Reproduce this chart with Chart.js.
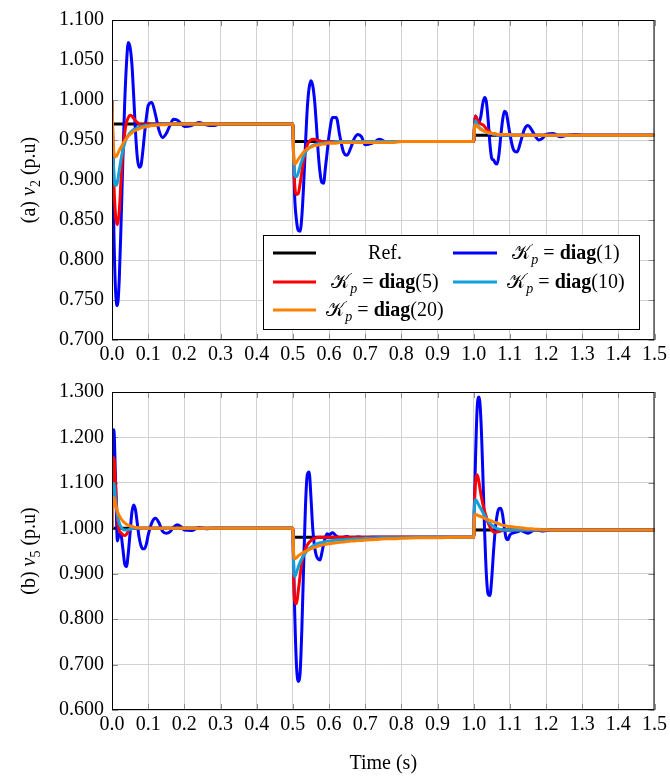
<!DOCTYPE html>
<html>
<head>
<meta charset="utf-8">
<script src="https://cdn.jsdelivr.net/npm/chart.js@4.4.1/dist/chart.umd.min.js"></script>
<style>
  html, body { margin: 0; padding: 0; background: #fff; }
  #wrap { position: relative; width: 670px; height: 776px; }
  canvas { position: absolute; left: 0; }
  #c1 { top: 0; }
  #c2 { top: 372px; }
</style>
</head>
<body>
<div id="wrap">
  <canvas id="c1" width="670" height="372"></canvas>
  <canvas id="c2" width="670" height="404"></canvas>
</div>
<script>
// Simulation time (s): dense right after each set-point change at 0, 0.5 and 1.0 s
const time = [
  0,0.002,0.005,0.01,0.015,0.02,0.025,0.03,0.035,0.04,
  0.045,0.05,0.055,0.06,0.065,0.07,0.075,0.08,0.085,0.09,
  0.095,0.1,0.11,0.12,0.13,0.14,0.15,0.16,0.17,0.18,
  0.19,0.2,0.22,0.24,0.26,0.28,0.3,0.35,0.4,0.45,0.499,
  0.5,0.502,0.505,0.51,0.515,0.52,0.525,0.53,0.535,0.54,
  0.545,0.55,0.555,0.56,0.565,0.57,0.575,0.58,0.585,0.59,
  0.595,0.6,0.61,0.62,0.63,0.64,0.65,0.66,0.67,0.68,
  0.69,0.7,0.72,0.74,0.76,0.78,0.8,0.85,0.9,0.95,0.999,
  1,1.002,1.005,1.01,1.015,1.02,1.025,1.03,1.035,1.04,
  1.045,1.05,1.055,1.06,1.065,1.07,1.075,1.08,1.085,1.09,
  1.095,1.1,1.11,1.12,1.13,1.14,1.15,1.16,1.17,1.18,
  1.19,1.2,1.22,1.24,1.26,1.28,1.3,1.35,1.4,1.45,1.5
];

// ---- Bus 2 voltage v2 (p.u) ----
const v2Ref = [
  0.970,0.970,0.970,0.970,0.970,0.970,0.970,0.970,0.970,0.970,
  0.970,0.970,0.970,0.970,0.970,0.970,0.970,0.970,0.970,0.970,
  0.970,0.970,0.970,0.970,0.970,0.970,0.970,0.970,0.970,0.970,
  0.970,0.970,0.970,0.970,0.970,0.970,0.970,0.970,0.970,0.970,0.970,
  0.970,0.948,0.948,0.948,0.948,0.948,0.948,0.948,0.948,0.948,
  0.948,0.948,0.948,0.948,0.948,0.948,0.948,0.948,0.948,0.948,
  0.948,0.948,0.948,0.948,0.948,0.948,0.948,0.948,0.948,0.948,
  0.948,0.948,0.948,0.948,0.948,0.948,0.948,0.948,0.948,0.948,0.948,
  0.948,0.956,0.956,0.956,0.956,0.956,0.956,0.956,0.956,0.956,
  0.956,0.956,0.956,0.956,0.956,0.956,0.956,0.956,0.956,0.956,
  0.956,0.956,0.956,0.956,0.956,0.956,0.956,0.956,0.956,0.956,
  0.956,0.956,0.956,0.956,0.956,0.956,0.956,0.956,0.956,0.956,0.956
];
const v2K1 = [
  1.000,0.930,0.840,0.760,0.743,0.775,0.845,0.925,0.995,1.045,
  1.072,1.066,1.045,1.005,0.960,0.928,0.916,0.918,0.935,0.958,
  0.978,0.993,0.997,0.982,0.962,0.953,0.958,0.968,0.976,0.975,
  0.971,0.967,0.968,0.972,0.969,0.968,0.970,0.970,0.970,0.970,0.970,
  0.970,0.930,0.880,0.850,0.837,0.836,0.855,0.895,0.945,0.990,
  1.015,1.024,1.018,1.000,0.970,0.935,0.910,0.897,0.896,0.915,
  0.935,0.955,0.978,0.978,0.955,0.935,0.931,0.940,0.952,0.957,
  0.954,0.944,0.946,0.951,0.947,0.948,0.948,0.948,0.948,0.948,0.948,
  0.948,0.965,0.980,0.975,0.972,0.980,0.995,1.003,0.998,0.975,
  0.945,0.927,0.925,0.921,0.920,0.932,0.955,0.975,0.986,0.984,
  0.972,0.958,0.938,0.935,0.948,0.963,0.968,0.963,0.955,0.950,
  0.952,0.957,0.958,0.954,0.956,0.957,0.956,0.956,0.956,0.956,0.956
];
const v2K5 = [
  1.000,0.960,0.900,0.855,0.844,0.860,0.900,0.935,0.958,0.972,
  0.978,0.981,0.980,0.977,0.974,0.972,0.970,0.969,0.969,0.969,
  0.970,0.970,0.970,0.970,0.970,0.970,0.970,0.970,0.970,0.970,
  0.970,0.970,0.970,0.970,0.970,0.970,0.970,0.970,0.970,0.970,0.970,
  0.970,0.930,0.895,0.882,0.883,0.895,0.910,0.925,0.936,0.944,
  0.948,0.950,0.951,0.951,0.950,0.949,0.949,0.948,0.948,0.948,
  0.948,0.948,0.948,0.948,0.948,0.948,0.948,0.948,0.948,0.948,
  0.948,0.948,0.948,0.948,0.948,0.948,0.948,0.948,0.948,0.948,0.948,
  0.948,0.968,0.980,0.976,0.972,0.970,0.969,0.967,0.964,0.962,
  0.960,0.958,0.957,0.957,0.956,0.956,0.956,0.956,0.956,0.956,
  0.956,0.956,0.956,0.956,0.956,0.956,0.956,0.956,0.956,0.956,
  0.956,0.956,0.956,0.956,0.956,0.956,0.956,0.956,0.956,0.956,0.956
];
const v2K10 = [
  1.000,0.950,0.910,0.893,0.897,0.912,0.926,0.937,0.946,0.952,
  0.956,0.959,0.961,0.963,0.964,0.965,0.966,0.967,0.967,0.968,
  0.968,0.968,0.969,0.969,0.969,0.970,0.970,0.970,0.970,0.970,
  0.970,0.970,0.970,0.970,0.970,0.970,0.970,0.970,0.970,0.970,0.970,
  0.970,0.930,0.906,0.904,0.909,0.917,0.924,0.930,0.935,0.938,
  0.940,0.942,0.943,0.944,0.945,0.945,0.946,0.946,0.946,0.947,
  0.947,0.947,0.947,0.948,0.948,0.948,0.948,0.948,0.948,0.948,
  0.948,0.948,0.948,0.948,0.948,0.948,0.948,0.948,0.948,0.948,0.948,
  0.948,0.965,0.974,0.969,0.966,0.964,0.962,0.961,0.960,0.959,
  0.958,0.958,0.957,0.957,0.956,0.956,0.956,0.956,0.956,0.956,
  0.956,0.956,0.956,0.956,0.956,0.956,0.956,0.956,0.956,0.956,
  0.956,0.956,0.956,0.956,0.956,0.956,0.956,0.956,0.956,0.956,0.956
];
const v2K20 = [
  1.000,0.960,0.935,0.929,0.932,0.937,0.941,0.945,0.949,0.952,
  0.955,0.957,0.959,0.961,0.962,0.963,0.964,0.965,0.966,0.966,
  0.967,0.967,0.968,0.968,0.969,0.969,0.969,0.970,0.970,0.970,
  0.970,0.970,0.970,0.970,0.970,0.970,0.970,0.970,0.970,0.970,0.970,
  0.970,0.935,0.920,0.922,0.926,0.929,0.932,0.935,0.937,0.939,
  0.940,0.941,0.942,0.943,0.943,0.944,0.944,0.945,0.945,0.945,
  0.946,0.946,0.946,0.946,0.947,0.947,0.947,0.947,0.947,0.947,
  0.947,0.947,0.947,0.947,0.947,0.947,0.948,0.948,0.948,0.948,0.948,
  0.948,0.962,0.969,0.967,0.965,0.963,0.962,0.961,0.960,0.959,
  0.959,0.958,0.958,0.958,0.957,0.957,0.957,0.957,0.957,0.957,
  0.957,0.957,0.956,0.956,0.956,0.956,0.956,0.956,0.956,0.956,
  0.956,0.956,0.956,0.956,0.956,0.956,0.956,0.956,0.956,0.956,0.956
];

// ---- Bus 5 voltage v5 (p.u) ----
const v5Ref = [
  1.000,1.000,1.000,1.000,1.000,1.000,1.000,1.000,1.000,1.000,
  1.000,1.000,1.000,1.000,1.000,1.000,1.000,1.000,1.000,1.000,
  1.000,1.000,1.000,1.000,1.000,1.000,1.000,1.000,1.000,1.000,
  1.000,1.000,1.000,1.000,1.000,1.000,1.000,1.000,1.000,1.000,1.000,
  1.000,0.980,0.980,0.980,0.980,0.980,0.980,0.980,0.980,0.980,
  0.980,0.980,0.980,0.980,0.980,0.980,0.980,0.980,0.980,0.980,
  0.980,0.980,0.980,0.980,0.980,0.980,0.980,0.980,0.980,0.980,
  0.980,0.980,0.980,0.980,0.980,0.980,0.980,0.980,0.980,0.980,0.980,
  0.980,0.996,0.996,0.996,0.996,0.996,0.996,0.996,0.996,0.996,
  0.996,0.996,0.996,0.996,0.996,0.996,0.996,0.996,0.996,0.996,
  0.996,0.996,0.996,0.996,0.996,0.996,0.996,0.996,0.996,0.996,
  0.996,0.996,0.996,0.996,0.996,0.996,0.996,0.996,0.996,0.996,0.996
];
const v5K1 = [
  1.000,1.170,1.217,1.100,0.972,0.988,0.985,0.955,0.922,0.916,
  0.945,0.990,1.035,1.051,1.040,1.010,0.980,0.962,0.955,0.955,
  0.965,0.985,1.012,1.022,1.012,0.993,0.989,0.992,1.002,1.008,
  1.004,0.996,0.995,1.002,0.999,1.000,1.000,1.000,1.000,1.000,1.000,
  1.000,0.930,0.820,0.700,0.663,0.680,0.780,0.920,1.050,1.118,
  1.124,1.070,1.000,0.960,0.940,0.932,0.930,0.945,0.965,0.980,
  0.988,0.986,0.990,0.983,0.978,0.980,0.982,0.978,0.979,0.981,
  0.980,0.979,0.980,0.980,0.980,0.980,0.980,0.980,0.980,0.980,0.980,
  0.980,1.050,1.150,1.270,1.289,1.240,1.130,1.000,0.900,0.855,
  0.852,0.890,0.950,1.000,1.030,1.043,1.044,1.030,1.000,0.978,
  0.975,0.985,0.990,0.992,0.995,0.992,0.989,0.993,0.997,0.996,
  0.994,0.995,0.997,0.996,0.996,0.996,0.996,0.996,0.996,0.996,0.996
];
const v5K5 = [
  1.000,1.120,1.156,1.090,1.020,0.995,0.990,0.986,0.984,0.987,
  0.993,0.998,1.000,1.000,1.000,1.000,1.000,1.000,1.000,1.000,
  1.000,1.000,1.000,1.000,1.000,1.000,1.000,1.000,1.000,1.000,
  1.000,1.000,1.000,1.000,1.000,1.000,1.000,1.000,1.000,1.000,1.000,
  1.000,0.900,0.840,0.834,0.862,0.895,0.925,0.942,0.955,0.963,
  0.969,0.973,0.976,0.978,0.979,0.980,0.980,0.980,0.980,0.980,
  0.980,0.980,0.980,0.980,0.980,0.980,0.980,0.980,0.980,0.980,
  0.980,0.980,0.980,0.980,0.980,0.980,0.980,0.980,0.980,0.980,0.980,
  0.980,1.050,1.100,1.118,1.100,1.075,1.055,1.038,1.025,1.012,
  1.003,0.996,0.992,0.991,0.992,0.993,0.994,0.995,0.996,0.996,
  0.996,0.996,0.996,0.996,0.996,0.996,0.996,0.996,0.996,0.996,
  0.996,0.996,0.996,0.996,0.996,0.996,0.996,0.996,0.996,0.996,0.996
];
const v5K10 = [
  1.000,1.070,1.099,1.060,1.030,1.012,1.003,0.998,0.996,0.996,
  0.997,0.998,0.999,1.000,1.000,1.000,1.000,1.000,1.000,1.000,
  1.000,1.000,1.000,1.000,1.000,1.000,1.000,1.000,1.000,1.000,
  1.000,1.000,1.000,1.000,1.000,1.000,1.000,1.000,1.000,1.000,1.000,
  1.000,0.920,0.894,0.902,0.915,0.925,0.933,0.940,0.946,0.951,
  0.955,0.958,0.961,0.963,0.965,0.967,0.968,0.969,0.970,0.971,
  0.972,0.972,0.973,0.974,0.975,0.975,0.976,0.976,0.977,0.977,
  0.977,0.978,0.978,0.979,0.979,0.979,0.979,0.980,0.980,0.980,0.980,
  0.980,1.040,1.063,1.058,1.050,1.043,1.036,1.029,1.022,1.016,
  1.011,1.007,1.004,1.001,0.999,0.998,0.997,0.997,0.996,0.996,
  0.996,0.996,0.996,0.996,0.996,0.996,0.996,0.996,0.996,0.996,
  0.996,0.996,0.996,0.996,0.996,0.996,0.996,0.996,0.996,0.996,0.996
];
const v5K20 = [
  1.000,1.050,1.068,1.050,1.037,1.028,1.021,1.016,1.012,1.009,
  1.007,1.005,1.004,1.003,1.002,1.002,1.001,1.001,1.000,1.000,
  1.000,1.000,1.000,1.000,1.000,1.000,1.000,1.000,1.000,1.000,
  1.000,1.000,1.000,1.000,1.000,1.000,1.000,1.000,1.000,1.000,1.000,
  1.000,0.950,0.933,0.935,0.939,0.942,0.945,0.947,0.949,0.951,
  0.953,0.955,0.957,0.958,0.959,0.961,0.962,0.963,0.964,0.965,
  0.965,0.966,0.967,0.968,0.969,0.970,0.971,0.972,0.972,0.973,
  0.973,0.974,0.975,0.976,0.977,0.977,0.978,0.979,0.979,0.980,0.980,
  0.980,1.020,1.031,1.029,1.027,1.026,1.024,1.022,1.020,1.019,
  1.017,1.016,1.014,1.013,1.011,1.010,1.008,1.007,1.006,1.005,
  1.004,1.004,1.003,1.002,1.001,1.000,0.999,0.999,0.998,0.998,
  0.997,0.997,0.996,0.996,0.996,0.996,0.996,0.996,0.996,0.996,0.996
];

// Axis ticks
const timeTicks = [0.0,0.1,0.2,0.3,0.4,0.5,0.6,0.7,0.8,0.9,1.0,1.1,1.2,1.3,1.4,1.5];
const v2Ticks = [0.70,0.75,0.80,0.85,0.90,0.95,1.00,1.05,1.10];
const v5Ticks = [0.6,0.7,0.8,0.9,1.0,1.1,1.2,1.3];

// Series appearance and legend text
const seriesNames = ['Ref.', 'diag(1)', 'diag(5)', 'diag(10)', 'diag(20)'];
const gainArgs = ['', '(1)', '(5)', '(10)', '(20)'];
const seriesColors = ['#000000', '#0000ff', '#ff0000', '#12a0dc', '#ff8000'];

const SERIF = "'Liberation Serif', 'DejaVu Serif', 'DejaVu Sans', serif";
const GRID = '#d2d2d2';

function setFont(ctx, p, size) {
  const s = p.sub ? size * 0.7 : size;
  ctx.font = (p.i ? 'italic ' : '') + (p.b ? 'bold ' : '') + s + 'px ' + SERIF;
}
function richWidth(ctx, parts, size) {
  let w = 0;
  parts.forEach(p => { setFont(ctx, p, size); w += ctx.measureText(p.t).width; });
  return w;
}
function drawRich(ctx, parts, x, y, size, align) {
  const w = richWidth(ctx, parts, size);
  let cx = align === 'center' ? x - w / 2 : x;
  ctx.textBaseline = 'middle';
  ctx.textAlign = 'left';
  ctx.fillStyle = '#000';
  parts.forEach(p => {
    setFont(ctx, p, size);
    ctx.fillText(p.t, cx, y + (p.sub ? size * 0.3 : 0));
    cx += ctx.measureText(p.t).width;
  });
}
function legendParts(i) {
  if (i === 0) return [{ t: seriesNames[0] }];
  return [{ t: '\u{1D4A6}' }, { t: 'p', i: true, sub: true }, { t: ' = ' }, { t: 'diag', b: true }, { t: gainArgs[i] }];
}

// Frame, inner tick marks, axis titles and the legend box
const decor = {
  id: 'decor',
  beforeDatasetsDraw(chart) {
    const { ctx, chartArea: a, scales: { x, y } } = chart;
    ctx.save();
    ctx.strokeStyle = '#8a8a8a';
    ctx.lineWidth = 1;
    ctx.beginPath();
    x.ticks.forEach(t => {
      const px = Math.round(x.getPixelForValue(t.value)) + 0.5;
      ctx.moveTo(px, a.bottom); ctx.lineTo(px, a.bottom - 6);
      ctx.moveTo(px, a.top); ctx.lineTo(px, a.top + 6);
    });
    y.ticks.forEach(t => {
      const py = Math.round(y.getPixelForValue(t.value)) + 0.5;
      ctx.moveTo(a.left, py); ctx.lineTo(a.left + 6, py);
      ctx.moveTo(a.right, py); ctx.lineTo(a.right - 6, py);
    });
    ctx.stroke();
    ctx.restore();
  },
  afterDraw(chart, args, opts) {
    const { ctx, chartArea: a } = chart;
    ctx.save();
    ctx.strokeStyle = '#000';
    ctx.lineWidth = 1;
    ctx.strokeRect(a.left + 0.5, a.top + 0.5, a.right - a.left - 1, a.bottom - a.top - 1);

    // y-axis title, rotated
    ctx.save();
    ctx.translate(30, (a.top + a.bottom) / 2);
    ctx.rotate(-Math.PI / 2);
    drawRich(ctx, opts.yTitle, 0, 0, 20, 'center');
    ctx.restore();

    if (opts.xTitle) {
      drawRich(ctx, [{ t: opts.xTitle }], (a.left + a.right) / 2, opts.xTitleY, 20, 'center');
    }

    if (opts.legend) {
      const L = 263, T = 235, R = 640, B = 330;
      ctx.fillStyle = '#fff';
      ctx.fillRect(L, T, R - L, B - T);
      ctx.strokeStyle = '#000';
      ctx.strokeRect(L + 0.5, T + 0.5, R - L - 1, B - T - 1);
      const cols = [{ l0: 273, l1: 316, tc: 385 }, { l0: 453, l1: 497, tc: 566 }];
      const rows = [253, 282, 310];
      for (let i = 0; i < 5; i++) {
        const c = cols[i % 2], ry = rows[Math.floor(i / 2)];
        ctx.strokeStyle = seriesColors[i];
        ctx.lineWidth = 3;
        ctx.beginPath();
        ctx.moveTo(c.l0, ry); ctx.lineTo(c.l1, ry);
        ctx.stroke();
        drawRich(ctx, legendParts(i), c.tc, ry + 1, 20, 'center');
      }
    }
    ctx.restore();
  }
};

function makeDatasets(series) {
  const order = [4, 3, 2, 1, 0];
  return series.map((vals, i) => ({
    label: seriesNames[i],
    data: time.map((t, k) => ({ x: t, y: vals[k] })),
    borderColor: seriesColors[i],
    borderWidth: 3,
    pointRadius: 0,
    fill: false,
    cubicInterpolationMode: 'monotone',
    borderJoinStyle: 'round',
    order: order[i]
  }));
}

function makeChart(id, series, yTicks, yMin, yMax, yStep, digits, pad, decorOpts) {
  const tickFont = { family: SERIF, size: 20 };
  return new Chart(document.getElementById(id), {
    type: 'line',
    data: { datasets: makeDatasets(series) },
    plugins: [decor],
    options: {
      responsive: false,
      animation: false,
      devicePixelRatio: 1,
      layout: { padding: pad },
      plugins: { legend: { display: false }, tooltip: { enabled: false }, decor: decorOpts },
      scales: {
        x: {
          type: 'linear', min: timeTicks[0], max: timeTicks[timeTicks.length - 1],
          afterBuildTicks: s => { s.ticks = timeTicks.map(v => ({ value: v })); },
          ticks: { callback: v => Number(v).toFixed(1), font: tickFont, color: '#000', padding: 3, maxRotation: 0, autoSkip: false },
          grid: { color: GRID, lineWidth: 1, drawTicks: false },
          border: { display: false },
          afterFit: s => { s.height = 32; }
        },
        y: {
          type: 'linear', min: yMin, max: yMax,
          afterBuildTicks: s => { s.ticks = yTicks.map(v => ({ value: v })); },
          ticks: { callback: v => Number(v).toFixed(digits), font: tickFont, color: '#000', padding: 8, autoSkip: false },
          grid: { color: GRID, lineWidth: 1, drawTicks: false },
          border: { display: false },
          afterFit: s => { s.width = 112; }
        }
      }
    }
  });
}

makeChart('c1', [v2Ref, v2K1, v2K5, v2K10, v2K20], v2Ticks, 0.7, 1.1, 0.05, 3,
  { left: 0, right: 13, top: 16, bottom: 0 },
  { yTitle: [{ t: '(a) ' }, { t: 'v', i: true }, { t: '2', sub: true }, { t: ' (p.u)' }], legend: true });

makeChart('c2', [v5Ref, v5K1, v5K5, v5K10, v5K20], v5Ticks, 0.6, 1.3, 0.1, 3,
  { left: 0, right: 13, top: 13, bottom: 34 },
  { yTitle: [{ t: '(b) ' }, { t: 'v', i: true }, { t: '5', sub: true }, { t: ' (p.u)' }], xTitle: 'Time (s)', xTitleY: 392 });
</script>
</body>
</html>
